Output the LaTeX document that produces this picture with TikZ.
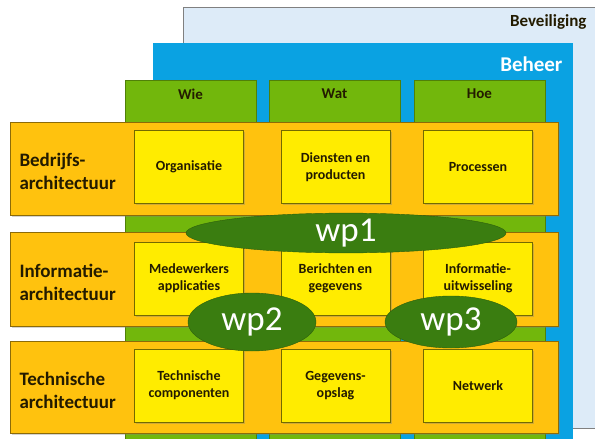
\documentclass[tikz,border=0pt]{standalone}
\usepackage{fontspec}
\setmainfont{Carlito}
\usetikzlibrary{shapes.geometric,shadows}
\definecolor{lichtblauw}{HTML}{DDEBF8}
\definecolor{beheerblauw}{HTML}{0AA2E2}
\definecolor{kolomgroen}{HTML}{72B70C}
\definecolor{laagoranje}{HTML}{FFC20E}
\definecolor{vakgeel}{HTML}{FFEC00}
\definecolor{wpgroen}{HTML}{3A7D10}
\definecolor{tekst}{HTML}{231B00}

\begin{document}
\begin{tikzpicture}[x=1pt,y=-1pt,
    schaduw/.style={drop shadow={shadow xshift=1.5pt, shadow yshift=-1.5pt, opacity=0.35}},
    kolom/.style={draw=kolomgroen!70!black, fill=kolomgroen, minimum width=131pt, minimum height=365pt, inner sep=0pt},
    laag/.style={draw=laagoranje!55!black, fill=laagoranje, schaduw, minimum width=548pt, inner sep=0pt},
    vak/.style={draw=vakgeel!45!black, fill=vakgeel, schaduw, minimum width=109pt, minimum height=73pt, inner sep=0pt, align=center, font=\fontsize{14}{17}\selectfont\bfseries, text=tekst},
    laagtekst/.style={anchor=west, align=left, font=\fontsize{19}{23}\selectfont\bfseries, text=tekst},
    wp/.style={ellipse, draw=wpgroen!75!black, fill=wpgroen, text=white, inner sep=0pt, font=\fontsize{35}{35}\selectfont}]
\useasboundingbox (0,0) rectangle (595,439);
\clip (0,0) rectangle (595,439);
% Beveiliging en Beheer
\node[draw=gray, fill=lichtblauw, minimum width=417pt, minimum height=421pt] (beveiliging) at (391.5,217.5) {};
\node[anchor=east, text=tekst, font=\fontsize{17}{17}\selectfont\bfseries] (beveiligingtekst) at (590,22) {Beveiliging};
\node[fill=beheerblauw, minimum width=420pt, minimum height=402pt] (beheer) at (363,244) {};
\node[anchor=east, text=white, font=\fontsize{21}{21}\selectfont\bfseries] (beheertekst) at (566,64) {Beheer};
% kolommen
\foreach \x/\naam/\kop in {190.5/wie/Wie, 334.5/wat/Wat, 479.5/hoe/Hoe}{
    \node[kolom] (\naam) at (\x,262.5) {};
    \node[font=\fontsize{15}{15}\selectfont\bfseries, text=tekst] (\naam kop) at (\x,94) {\kop};
}
% lagen
\node[laag, minimum height=93pt] (bedrijf) at (284,168.5) {};
\node[laag, minimum height=94pt] (informatie) at (284,279) {};
\node[laag, minimum height=92pt] (techniek) at (284,387) {};
\node[laagtekst] (bedrijftekst) at (16,171) {Bedrijfs-\\architectuur};
\node[laagtekst] (informatietekst) at (16,282) {Informatie-\\architectuur};
\node[laagtekst] (techniektekst) at (16,390) {Technische\\architectuur};
% vakken
\node[vak] (organisatie) at (189,167) {Organisatie};
\node[vak] (diensten) at (335.5,167) {Diensten en\\producten};
\node[vak] (processen) at (478,167) {Processen};
\node[vak] (medewerkers) at (189,278.5) {Medewerkers\\applicaties};
\node[vak] (berichten) at (335.5,278.5) {Berichten en\\gegevens};
\node[vak] (uitwisseling) at (478,278.5) {Informatie-\\uitwisseling};
\node[vak] (componenten) at (189,385.5) {Technische\\componenten};
\node[vak] (opslag) at (335.5,385.5) {Gegevens-\\opslag};
\node[vak] (netwerk) at (478,385.5) {Netwerk};
% werkpakketten
\node[wp, minimum width=320pt, minimum height=36pt] (wp1) at (346,233) {wp1};
\node[wp, minimum width=128pt, minimum height=58pt] (wp2) at (252,322) {wp2};
\node[wp, minimum width=132pt, minimum height=52pt] (wp3) at (451,322) {wp3};
\end{tikzpicture}
\end{document}
